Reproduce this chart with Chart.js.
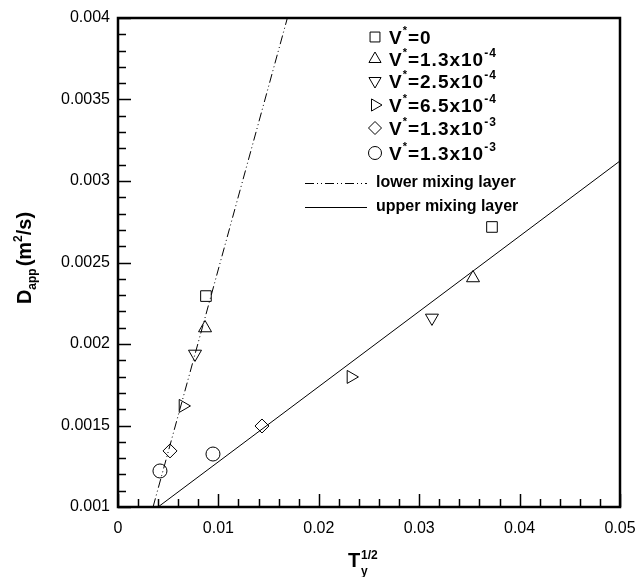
<!DOCTYPE html>
<html>
<head>
<meta charset="utf-8">
<script src="https://cdn.jsdelivr.net/npm/chart.js@4.4.0/dist/chart.umd.min.js"></script>
<style>body{margin:0;background:#fff}</style>
</head>
<body>
<canvas id="myChart" width="639" height="577"></canvas>
<script>
// V* の値（凡例の本体と指数）
const vLabels = ['0', '1.3x10', '2.5x10', '6.5x10', '1.3x10', '1.3x10'];
const vExponents = ['', '-4', '-4', '-4', '-3', '-3'];

// T_y^{1/2}: 各系列 [下層, 上層]
const tyValues = [
    [0.00876, 0.03725],
    [0.00867, 0.03536],
    [0.00767, 0.03127],
    [0.00647, 0.0232],
    [0.00518, 0.01434],
    [0.00418, 0.00946]
];
// D_app (m^2/s)
const dappValues = [
    [0.002294, 0.002718],
    [0.002098, 0.002405],
    [0.001939, 0.00216],
    [0.00162, 0.001798],
    [0.001344, 0.001497],
    [0.001221, 0.001325]
];

// 近似直線の端点
const lowerLineX = [0.00349, 0.01687];
const lowerLineY = [0.001, 0.004];
const upperLineX = [0.00399, 0.05];
const upperLineY = [0.001, 0.003123];
const lineLabels = ['lower mixing layer', 'upper mixing layer'];

// 目盛り
const xTicks = [0, 0.01, 0.02, 0.03, 0.04, 0.05];
const xTickLabels = ['0', '0.01', '0.02', '0.03', '0.04', '0.05'];
const yTicks = [0.001, 0.0015, 0.002, 0.0025, 0.003, 0.0035, 0.004];
const yTickLabels = ['0.001', '0.0015', '0.002', '0.0025', '0.003', '0.0035', '0.004'];

// マーカーの形
const markers = [
    { style: 'rect', rotation: 0, radius: 7.5 },
    { style: 'triangle', rotation: 0, radius: 7.5 },
    { style: 'triangle', rotation: 180, radius: 7.5 },
    { style: 'triangle', rotation: 90, radius: 7.5 },
    { style: 'rectRot', rotation: 0, radius: 7 },
    { style: 'circle', rotation: 0, radius: 7 }
];

const FONT = 'Liberation Sans, Arial, sans-serif';
const dashDot = [9, 3, 1, 3, 1, 3];

const datasets = tyValues.map((xs, i) => ({
    label: 'V*=' + vLabels[i] + vExponents[i],
    data: xs.map((x, j) => ({ x: x, y: dappValues[i][j] })),
    showLine: false,
    pointStyle: markers[i].style,
    rotation: markers[i].rotation,
    pointRadius: markers[i].radius,
    borderColor: '#000',
    backgroundColor: 'rgba(0,0,0,0)',
    borderWidth: 1
}));
datasets.push({
    label: lineLabels[0],
    data: lowerLineX.map((x, j) => ({ x: x, y: lowerLineY[j] })),
    showLine: true, pointRadius: 0, borderColor: '#000', borderWidth: 1, borderDash: dashDot
});
datasets.push({
    label: lineLabels[1],
    data: upperLineX.map((x, j) => ({ x: x, y: upperLineY[j] })),
    showLine: true, pointRadius: 0, borderColor: '#000', borderWidth: 1
});

// 上付き・下付きを含む文字列を描く
function drawParts(ctx, parts, x, y) {
    let cx = x;
    parts.forEach(p => {
        ctx.font = 'bold ' + p.size + 'px ' + FONT;
        ctx.fillText(p.text, cx, y + (p.dy || 0));
        cx += ctx.measureText(p.text).width + (p.gap || 0);
    });
    return cx - x;
}
function measureParts(ctx, parts) {
    let w = 0;
    parts.forEach(p => {
        ctx.font = 'bold ' + p.size + 'px ' + FONT;
        w += ctx.measureText(p.text).width + (p.gap || 0);
    });
    return w;
}

// 枠・内向きの目盛り・凡例・軸タイトル
const framePlugin = {
    id: 'frame',
    afterDraw(chart) {
        const ctx = chart.ctx;
        const a = chart.chartArea;
        const xs = chart.scales.x, ys = chart.scales.y;
        ctx.save();
        ctx.strokeStyle = '#000';
        ctx.fillStyle = '#000';

        // 目盛り
        ctx.lineWidth = 1.5;
        ctx.beginPath();
        for (let k = 0; k <= 25; k++) {
            const px = Math.round(xs.getPixelForValue(k * 0.002)) + 0.5;
            const len = k % 5 === 0 ? 13 : 8;
            ctx.moveTo(px, a.bottom);
            ctx.lineTo(px, a.bottom - len);
        }
        for (let k = 0; k <= 30; k++) {
            const py = Math.round(ys.getPixelForValue(0.001 + k * 0.0001)) + 0.5;
            const len = k % 5 === 0 ? 13 : 8;
            ctx.moveTo(a.left, py);
            ctx.lineTo(a.left + len, py);
        }
        ctx.stroke();

        // 枠
        ctx.lineWidth = 2.5;
        ctx.strokeRect(a.left, a.top, a.right - a.left, a.bottom - a.top);

        // 凡例（マーカー）
        const rowY = [37, 59, 81, 105, 128, 153];
        markers.forEach((m, i) => {
            ctx.lineWidth = 1;
            ctx.fillStyle = 'rgba(0,0,0,0)';
            Chart.helpers.drawPoint(ctx, {
                pointStyle: m.style, rotation: m.rotation,
                radius: m.radius - 0.5, borderWidth: 1
            }, 375, rowY[i]);
            ctx.fillStyle = '#000';
            ctx.textBaseline = 'alphabetic';
            ctx.letterSpacing = '1px';
            const parts = [
                { text: 'V', size: 19 },
                { text: '*', size: 11, dy: -10 },
                { text: '=' + vLabels[i], size: 19 }
            ];
            if (vExponents[i]) parts.push({ text: vExponents[i], size: 12, dy: -9 });
            drawParts(ctx, parts, 389, rowY[i] + 7);
            ctx.letterSpacing = '0px';
        });

        // 凡例（直線）
        ctx.lineWidth = 1;
        ctx.setLineDash(dashDot);
        ctx.beginPath();
        ctx.moveTo(305, 183.5);
        ctx.lineTo(367, 183.5);
        ctx.stroke();
        ctx.setLineDash([]);
        ctx.beginPath();
        ctx.moveTo(305, 207.5);
        ctx.lineTo(367, 207.5);
        ctx.stroke();
        ctx.font = 'bold 16px ' + FONT;
        ctx.textBaseline = 'middle';
        ctx.fillText(lineLabels[0], 376, 183);
        ctx.fillText(lineLabels[1], 376, 207);

        // x 軸タイトル
        ctx.textBaseline = 'alphabetic';
        ctx.font = 'bold 20px ' + FONT;
        ctx.fillText('T', 348, 567);
        ctx.font = 'bold 12px ' + FONT;
        ctx.fillText('y', 361, 575);
        ctx.fillText('1/2', 361, 559);

        // y 軸タイトル
        ctx.translate(31, 258);
        ctx.rotate(-Math.PI / 2);
        const yParts = [
            { text: 'D', size: 20 },
            { text: 'app', size: 12, dy: 5, gap: 2 },
            { text: '(m', size: 20 },
            { text: '2', size: 12, dy: -9 },
            { text: '/s)', size: 20 }
        ];
        const w = measureParts(ctx, yParts);
        drawParts(ctx, yParts, -w / 2, 0);
        ctx.restore();
    }
};

const ctx = document.getElementById('myChart').getContext('2d');
new Chart(ctx, {
    type: 'scatter',
    data: { datasets: datasets },
    options: {
        responsive: false,
        animation: false,
        layout: { padding: { top: 18, right: 19, left: 0, bottom: 0 } },
        plugins: { legend: { display: false }, tooltip: { enabled: false } },
        scales: {
            x: {
                type: 'linear', min: 0, max: 0.05,
                afterBuildTicks: s => { s.ticks = xTicks.map(v => ({ value: v })); },
                afterFit: s => {
                    s.height = 70;
                    s.paddingLeft = 0; s.paddingRight = 0;
                    s.paddingTop = 0; s.paddingBottom = 0;
                },
                grid: { display: false, drawTicks: false },
                border: { display: false },
                ticks: {
                    callback: (v, i) => xTickLabels[i],
                    font: { family: FONT, size: 16 }, color: '#000',
                    padding: 12, maxRotation: 0, autoSkip: false
                }
            },
            y: {
                type: 'linear', min: 0.001, max: 0.004,
                afterBuildTicks: s => { s.ticks = yTicks.map(v => ({ value: v })); },
                afterFit: s => {
                    s.width = 118;
                    s.paddingLeft = 0; s.paddingRight = 0;
                    s.paddingTop = 0; s.paddingBottom = 0;
                },
                grid: { display: false, drawTicks: false },
                border: { display: false },
                ticks: {
                    callback: (v, i) => yTickLabels[i],
                    font: { family: FONT, size: 16 }, color: '#000',
                    padding: 8, autoSkip: false
                }
            }
        }
    },
    plugins: [framePlugin]
});
</script>
</body>
</html>
